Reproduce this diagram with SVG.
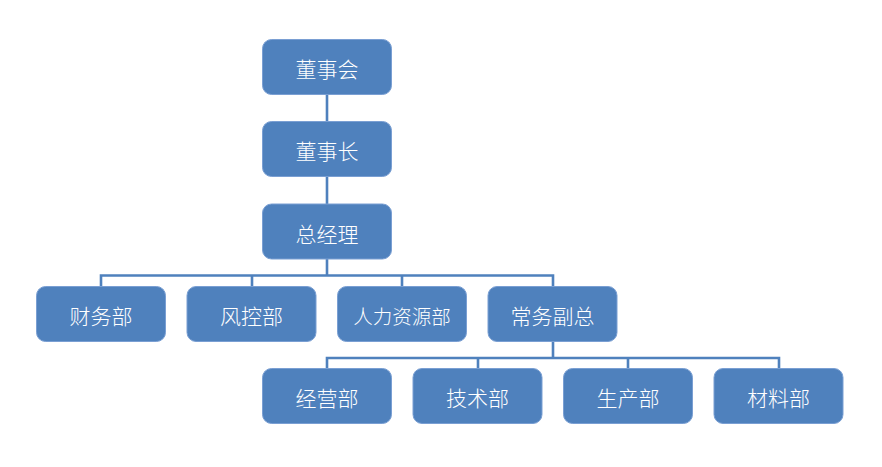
<svg xmlns="http://www.w3.org/2000/svg" width="882" height="467" viewBox="0 0 882 467">
<style>
.n rect{fill:#4F81BD;stroke:#7A9FD3;stroke-width:1}
.n text{fill:#fff;font-family:"Noto Sans CJK SC","Noto Sans",sans-serif;font-size:21px;font-weight:300;text-anchor:middle}
#edges path{fill:none;stroke:#4F81BD;stroke-width:2.6}
</style>
<rect width="882" height="467" fill="#fff"/>
<g id="edges">
<path d="M327 94V121.5M327 176.5V204M327 259V275.5M101 286.5V275.5H553V286.5M252 275.5V286.5M402 275.5V286.5"/>
<path d="M553 341.5V358M327 368.5V358H779V368.5M478 358V368.5M628 358V368.5"/>
</g>
<g id="n1" class="n"><rect x="262.5" y="39.5" width="129" height="55" rx="9"/><text x="327" y="77">董事会</text></g>
<g id="n2" class="n"><rect x="262.5" y="121.5" width="129" height="55" rx="9"/><text x="327" y="159">董事长</text></g>
<g id="n3" class="n"><rect x="262.5" y="204" width="129" height="55" rx="9"/><text x="327" y="241.5">总经理</text></g>
<g id="n4" class="n"><rect x="36.5" y="286.5" width="129" height="55" rx="9"/><text x="101" y="324">财务部</text></g>
<g id="n5" class="n"><rect x="187" y="286.5" width="129" height="55" rx="9"/><text x="251.5" y="324">风控部</text></g>
<g id="n6" class="n"><rect x="337.5" y="286.5" width="129" height="55" rx="9"/><text x="402" y="324" style="font-size:19.5px">人力资源部</text></g>
<g id="n7" class="n"><rect x="488" y="286.5" width="129" height="55" rx="9"/><text x="552.5" y="324">常务副总</text></g>
<g id="n8" class="n"><rect x="262.5" y="368.5" width="129" height="55" rx="9"/><text x="327" y="406">经营部</text></g>
<g id="n9" class="n"><rect x="413" y="368.5" width="129" height="55" rx="9"/><text x="477.5" y="406">技术部</text></g>
<g id="n10" class="n"><rect x="563.5" y="368.5" width="129" height="55" rx="9"/><text x="628" y="406">生产部</text></g>
<g id="n11" class="n"><rect x="714" y="368.5" width="129" height="55" rx="9"/><text x="778.5" y="406">材料部</text></g>
</svg>
